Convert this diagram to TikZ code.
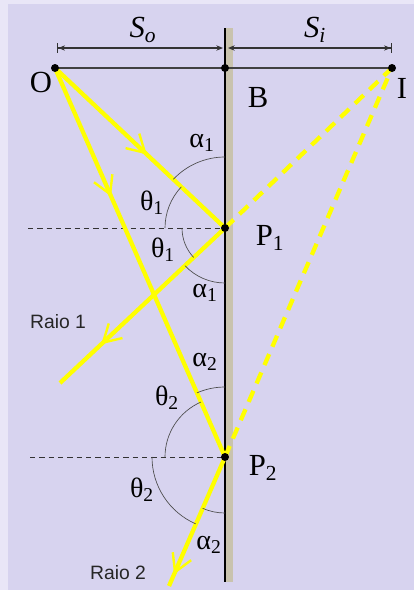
\documentclass[tikz,border=0pt]{standalone}
\usepackage{fontspec}
\setmainfont{Liberation Serif}
\newfontfamily\raiofont{Liberation Sans}
\usetikzlibrary{arrows.meta, decorations.markings}
\definecolor{framebg}{HTML}{E9E6F7}
\definecolor{panelbg}{HTML}{D7D3EF}
\definecolor{glass}{HTML}{C9C3AE}
\definecolor{ray}{HTML}{FFFF00}

\begin{document}
\begin{tikzpicture}[x=0.75pt, y=0.75pt,
    lbl/.style={font=\fontsize{23}{23}\selectfont, inner sep=0pt},
    ang/.style={font=\fontsize{21}{21}\selectfont, inner sep=0pt},
    raio/.style={font=\raiofont\fontsize{14.5}{14.5}\selectfont, text=black!85, inner sep=0pt},
    raybeam/.style={draw=ray, line width=3.2pt},
    virtual/.style={draw=ray, line width=3.2pt, dash pattern=on 9pt off 6pt},
    normalline/.style={draw=black!80, dash pattern=on 4pt off 3pt, line width=0.6pt},
    arcline/.style={draw=black!70, line width=0.5pt},
    dim/.style={draw=black!80, line width=1pt},
    midarrow/.style={postaction={decorate}, decoration={markings,
        mark=at position #1 with {\arrow{Straight Barb[length=13pt, width=15pt, line width=1.8pt]}}}}
]
% background
\fill[framebg] (0,0) rectangle (414,-590);
\fill[panelbg] (8,-4) rectangle (414,-590);
\useasboundingbox (0,0) rectangle (414,-590);

% mirror
\fill[glass] (226,-28) rectangle (233,-582);
\draw[black, line width=1.1pt] (225,-28) -- (225,-582);

% points
\coordinate (O) at (55,-68);
\coordinate (B) at (225,-68);
\coordinate (I) at (392,-68);
\coordinate (P1) at (225,-228);
\coordinate (P2) at (225,-457);
\coordinate (r1end) at (60,-383);
\coordinate (r2end) at (169,-586);
\coordinate (n1) at (28,-228);
\coordinate (n2) at (30,-457);

% distances
\coordinate (dimL) at (57,-48);
\coordinate (dimM1) at (223,-48);
\coordinate (dimM2) at (228,-48);
\coordinate (dimR) at (392,-48);
\draw[dim, {Bar[width=7pt]Stealth[length=5pt,width=4pt]}-{Stealth[length=5pt,width=4pt]}] (dimL) -- (dimM1);
\draw[dim, {Stealth[length=5pt,width=4pt]}-{Stealth[length=5pt,width=4pt]Bar[width=7pt]}] (dimM2) -- (dimR);
\node[lbl] (so) at (143,-30) {\itshape S\textsubscript{o}};
\node[lbl] (si) at (315,-30) {\itshape S\textsubscript{i}};

\draw[black!75, line width=1.2pt] (O) -- (I);

% normals
\draw[normalline] (n1) -- (P1);
\draw[normalline] (n2) -- (P2);

% rays
\draw[virtual] (P1) -- (I);
\draw[virtual] (P2) -- (I);
\draw[raybeam, midarrow=0.54] (O) -- (P1);
\draw[raybeam, midarrow=0.75] (P1) -- (r1end);
\draw[raybeam, midarrow=0.33] (O) -- (P2);
\draw[raybeam, midarrow=0.91] (P2) -- (r2end);

% angles
\draw[arcline] ([shift={(90:71)}]P1) arc[start angle=90, end angle=136.7, radius=71];
\draw[arcline] ([shift={(136.7:60)}]P1) arc[start angle=136.7, end angle=180, radius=60];
\draw[arcline] ([shift={(180:43)}]P1) arc[start angle=180, end angle=223.3, radius=43];
\draw[arcline] ([shift={(223.3:55)}]P1) arc[start angle=223.3, end angle=270, radius=55];
\draw[arcline] ([shift={(90:70)}]P2) arc[start angle=90, end angle=113.6, radius=70];
\draw[arcline] ([shift={(113.6:60)}]P2) arc[start angle=113.6, end angle=180, radius=60];
\draw[arcline] ([shift={(180:73)}]P2) arc[start angle=180, end angle=246.4, radius=73];
\draw[arcline] ([shift={(246.4:56)}]P2) arc[start angle=246.4, end angle=270, radius=56];

% dots
\foreach \p in {O, B, I, P1, P2}
    \fill[black] (\p) circle[radius=4];

% labels
\node[lbl] (labO) at (41,-82) {O};
\node[lbl] (labB) at (258,-97) {B};
\node[lbl] (labI) at (402,-88) {I};
\node[lbl] (labP1) at (270,-238) {P\textsubscript{1}};
\node[lbl] (labP2) at (263,-468) {P\textsubscript{2}};
\node[ang] (a1up) at (202,-143) {α\textsubscript{1}};
\node[ang] (t1up) at (152,-203) {θ\textsubscript{1}};
\node[ang] (t1dn) at (163,-250) {θ\textsubscript{1}};
\node[ang] (a1dn) at (205,-293) {α\textsubscript{1}};
\node[ang] (a2up) at (205,-362) {α\textsubscript{2}};
\node[ang] (t2up) at (167,-398) {θ\textsubscript{2}};
\node[ang] (t2dn) at (142,-490) {θ\textsubscript{2}};
\node[ang] (a2dn) at (209,-545) {α\textsubscript{2}};
\node[raio] (raio1) at (58,-322) {Raio 1};
\node[raio] (raio2) at (118,-573) {Raio 2};
\end{tikzpicture}
\end{document}
